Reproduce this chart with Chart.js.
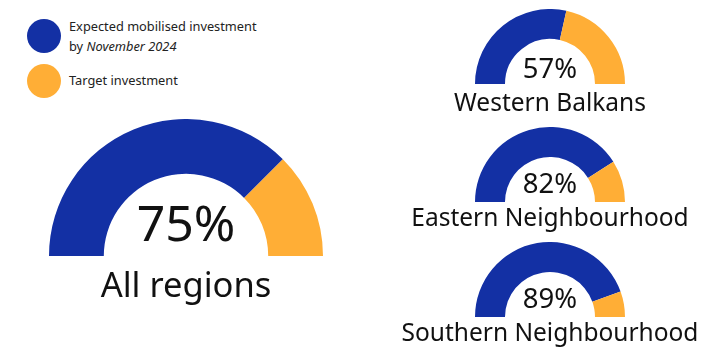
<!DOCTYPE html>
<html>
<head>
<meta charset="utf-8">
<script src="https://cdn.jsdelivr.net/npm/chart.js@4"></script>
<style>
  body { margin: 0; background: #fff; font-family: "Noto Sans", sans-serif; color: #111; }
  #page { position: relative; width: 712px; height: 356px; overflow: hidden; }
  .box { position: absolute; }
  .txt { position: absolute; white-space: nowrap; text-align: center; transform: translateX(-50%); }
  .dot { position: absolute; width: 34px; height: 34px; border-radius: 50%; }
  .leg { position: absolute; left: 69px; font-size: 12.8px; line-height: 13px; white-space: nowrap; color: #222; }
</style>
</head>
<body>
<div id="page">
  <div class="dot" style="left:27px;top:19px;background:#1330a4"></div>
  <div class="dot" style="left:27px;top:64px;background:#ffae36"></div>
  <div class="leg" style="top:20px">Expected mobilised investment</div>
  <div class="leg" style="top:40px">by <i>November 2024</i></div>
  <div class="leg" style="top:74px">Target investment</div>
</div>
<script>
const regions = ["All regions", "Western Balkans", "Eastern Neighbourhood", "Southern Neighbourhood"];
const mobilised = [75, 57, 82, 89];
const target = [25, 43, 18, 11];
const seriesNames = ["Expected mobilised investment by November 2024", "Target investment"];

// gauge layout: centre x, bottom y, outer radius, font sizes, baselines
const gauges = [
  { cx: 186, by: 256, r: 137, pctSize: 50, pctBase: 241, labSize: 34.5, labBase: 298 },
  { cx: 550, by: 84, r: 75, pctSize: 27.5, pctBase: 78, labSize: 24.5, labBase: 112 },
  { cx: 550, by: 202, r: 75, pctSize: 27.5, pctBase: 193, labSize: 24.5, labBase: 227 },
  { cx: 550, by: 317, r: 75, pctSize: 27.5, pctBase: 308, labSize: 24.5, labBase: 342 }
];

const page = document.getElementById("page");

function addText(str, cx, base, size) {
  const d = document.createElement("div");
  d.className = "txt";
  d.textContent = str;
  d.style.left = cx + "px";
  d.style.fontSize = size + "px";
  d.style.lineHeight = size + "px";
  d.style.top = (base - 0.888 * size) + "px";
  page.appendChild(d);
}

gauges.forEach((g, i) => {
  const box = document.createElement("div");
  box.className = "box";
  box.style.left = (g.cx - g.r) + "px";
  box.style.top = (g.by - g.r) + "px";
  box.style.width = (2 * g.r) + "px";
  box.style.height = g.r + "px";
  const cv = document.createElement("canvas");
  box.appendChild(cv);
  page.appendChild(box);

  new Chart(cv, {
    type: "doughnut",
    data: {
      labels: seriesNames,
      datasets: [{
        data: [mobilised[i], target[i]],
        backgroundColor: ["#1330a4", "#ffae36"],
        borderWidth: 0
      }]
    },
    options: {
      responsive: true,
      maintainAspectRatio: false,
      animation: false,
      events: [],
      rotation: -90,
      circumference: 180,
      cutout: "60%",
      layout: { padding: 0 },
      plugins: { legend: { display: false }, tooltip: { enabled: false } }
    }
  });

  addText(mobilised[i] + "%", g.cx, g.pctBase, g.pctSize);
  addText(regions[i], g.cx, g.labBase, g.labSize);
});
</script>
</body>
</html>
